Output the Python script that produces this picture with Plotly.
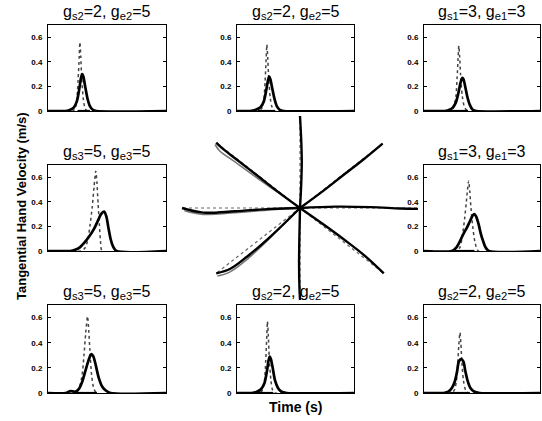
import plotly.graph_objects as go
import numpy as np

# ---------------- data ----------------
titles = [
    "g<sub>s2</sub>=2, g<sub>e2</sub>=5",  # top-left
    "g<sub>s2</sub>=2, g<sub>e2</sub>=5",  # top-middle
    "g<sub>s1</sub>=3, g<sub>e1</sub>=3",  # top-right
    "g<sub>s3</sub>=5, g<sub>e3</sub>=5",  # middle-left
    "g<sub>s1</sub>=3, g<sub>e1</sub>=3",  # middle-right
    "g<sub>s3</sub>=5, g<sub>e3</sub>=5",  # bottom-left
    "g<sub>s2</sub>=2, g<sub>e2</sub>=5",  # bottom-middle
    "g<sub>s2</sub>=2, g<sub>e2</sub>=5",  # bottom-right
]
ytick_vals = [0, 0.2, 0.4, 0.6]
ytick_text = ["0", "0.2", "0.4", "0.6"]

# top-left
tl_thin_t = [0, 0.42, 0.46, 0.49, 0.51, 0.53, 0.54, 0.555, 0.57, 0.60, 0.63, 0.67, 2.0]
tl_thin_v = [0, 0, 0.02, 0.10, 0.25, 0.45, 0.56, 0.45, 0.28, 0.09, 0.02, 0, 0]
tl_thick_t = [0, 0.30, 0.38, 0.44, 0.49, 0.53, 0.56, 0.58, 0.60, 0.63, 0.67, 0.71, 0.76, 0.82, 2.0]
tl_thick_v = [0, 0, 0.01, 0.03, 0.08, 0.18, 0.27, 0.30, 0.28, 0.20, 0.10, 0.04, 0.01, 0, 0]
# top-middle
tm_thin_t = [0, 0.36, 0.42, 0.46, 0.48, 0.50, 0.51, 0.525, 0.54, 0.57, 0.60, 0.64, 2.0]
tm_thin_v = [0, 0, 0.02, 0.10, 0.24, 0.44, 0.54, 0.44, 0.28, 0.10, 0.03, 0, 0]
tm_thick_t = [0, 0.22, 0.32, 0.40, 0.46, 0.50, 0.53, 0.55, 0.57, 0.60, 0.64, 0.68, 0.73, 0.80, 2.0]
tm_thick_v = [0, 0, 0.01, 0.03, 0.08, 0.17, 0.25, 0.28, 0.26, 0.19, 0.10, 0.04, 0.01, 0, 0]
# top-right
tr_thin_t = [0, 0.46, 0.51, 0.55, 0.57, 0.59, 0.60, 0.615, 0.63, 0.66, 0.70, 0.76, 2.0]
tr_thin_v = [0, 0, 0.03, 0.12, 0.26, 0.45, 0.53, 0.44, 0.30, 0.12, 0.03, 0, 0]
tr_thick_t = [0, 0.36, 0.44, 0.50, 0.55, 0.59, 0.63, 0.66, 0.68, 0.71, 0.75, 0.79, 0.84, 0.90, 2.0]
tr_thick_v = [0, 0, 0.01, 0.03, 0.07, 0.14, 0.23, 0.27, 0.26, 0.20, 0.11, 0.05, 0.01, 0, 0]
# middle-left
ml_thin_t = [0, 0.55, 0.62, 0.67, 0.71, 0.75, 0.78, 0.81, 0.83, 0.85, 0.87, 0.89, 0.92, 2.0]
ml_thin_v = [0, 0, 0.02, 0.08, 0.20, 0.36, 0.52, 0.65, 0.55, 0.38, 0.22, 0.08, 0, 0]
ml_thick_t = [0, 0.38, 0.46, 0.54, 0.62, 0.70, 0.78, 0.84, 0.90, 0.95, 0.99, 1.02, 1.06, 1.10, 1.16, 2.0]
ml_thick_v = [0, 0, 0.01, 0.03, 0.07, 0.12, 0.18, 0.24, 0.30, 0.32, 0.28, 0.20, 0.10, 0.04, 0, 0]
# middle-right
mr_thin_t = [0, 0.56, 0.62, 0.66, 0.70, 0.73, 0.75, 0.77, 0.79, 0.81, 0.84, 0.88, 0.94, 2.0]
mr_thin_v = [0, 0, 0.03, 0.12, 0.26, 0.40, 0.50, 0.57, 0.48, 0.35, 0.20, 0.07, 0, 0]
mr_thick_t = [0, 0.48, 0.56, 0.62, 0.68, 0.74, 0.79, 0.84, 0.87, 0.90, 0.94, 0.98, 1.02, 1.06, 1.12, 2.0]
mr_thick_v = [0, 0, 0.03, 0.08, 0.14, 0.19, 0.24, 0.29, 0.30, 0.28, 0.22, 0.14, 0.08, 0.03, 0, 0]
# bottom-left
bl_thin_t = [0, 0.47, 0.53, 0.58, 0.61, 0.64, 0.67, 0.69, 0.71, 0.74, 0.78, 0.83, 2.0]
bl_thin_v = [0, 0, 0.04, 0.15, 0.30, 0.48, 0.61, 0.50, 0.34, 0.14, 0.03, 0, 0]
bl_thick_t = [0, 0.30, 0.38, 0.46, 0.52, 0.58, 0.63, 0.68, 0.72, 0.74, 0.77, 0.81, 0.86, 0.92, 0.98, 1.06, 2.0]
bl_thick_v = [0, 0, 0.015, 0.01, 0.03, 0.09, 0.17, 0.25, 0.30, 0.31, 0.29, 0.22, 0.12, 0.05, 0.02, 0, 0]
# bottom-middle
bm_thin_t = [0, 0.38, 0.43, 0.47, 0.49, 0.51, 0.52, 0.535, 0.55, 0.58, 0.61, 0.65, 2.0]
bm_thin_v = [0, 0, 0.02, 0.10, 0.25, 0.46, 0.57, 0.46, 0.29, 0.10, 0.02, 0, 0]
bm_thick_t = [0, 0.25, 0.34, 0.41, 0.47, 0.51, 0.54, 0.56, 0.58, 0.61, 0.65, 0.70, 0.76, 0.85, 2.0]
bm_thick_v = [0, 0, 0.01, 0.03, 0.08, 0.17, 0.26, 0.29, 0.27, 0.20, 0.10, 0.04, 0.01, 0, 0]
# bottom-right
br_thin_t = [0, 0.48, 0.53, 0.56, 0.58, 0.60, 0.62, 0.635, 0.65, 0.68, 0.72, 0.77, 2.0]
br_thin_v = [0, 0, 0.03, 0.10, 0.22, 0.38, 0.48, 0.40, 0.27, 0.10, 0.02, 0, 0]
br_thick_t = [0, 0.34, 0.42, 0.48, 0.53, 0.57, 0.60, 0.64, 0.68, 0.71, 0.75, 0.80, 0.87, 0.96, 2.0]
br_thick_v = [0, 0, 0.01, 0.04, 0.09, 0.17, 0.25, 0.27, 0.25, 0.18, 0.10, 0.04, 0.01, 0, 0]

# movement duration bar (onset, offset) at zero velocity
onset = [0.50, 0.36, 0.44, None, 0.53, 0.46, 0.35, 0.44]
offset = [0.71, 0.65, 0.76, None, 0.87, 0.83, 0.62, 0.79]

# centre panel: hand paths to 8 targets (unit radius)
target_deg = [0, 45, 90, 135, 180, 225, 270, 315]
path_E_x = [0, 0.3, 0.6, 0.85, 1.0];            path_E_y = [0, 0.015, 0.01, -0.005, -0.01]
path_NE_x = [0, 0.18, 0.36, 0.54, 0.70];        path_NE_y = [0, 0.17, 0.35, 0.53, 0.70]
path_N_x = [0, 0.01, 0.015, 0.01, 0.0];         path_N_y = [0, 0.25, 0.5, 0.75, 1.0]
path_NW_x = [0, -0.18, -0.36, -0.54, -0.66, -0.71]; path_NW_y = [0, 0.17, 0.35, 0.53, 0.65, 0.71]
path_W_x = [0, -0.25, -0.55, -0.82, -1.0];      path_W_y = [0, -0.01, -0.035, -0.05, 0.0]
path_SW_x = [0, -0.25, -0.45, -0.59, -0.71];    path_SW_y = [0, -0.31, -0.53, -0.66, -0.71]
path_S_x = [0, -0.005, -0.008, -0.005, 0.0];    path_S_y = [0, -0.3, -0.6, -0.85, -1.0]
path_SE_x = [0, 0.2, 0.37, 0.55, 0.71];         path_SE_y = [0, -0.18, -0.34, -0.52, -0.71]
# second (grey) paths where they differ visibly
gpath_NW_x = [0, -0.2, -0.4, -0.56, -0.68, -0.72]; gpath_NW_y = [0, 0.18, 0.36, 0.51, 0.62, 0.69]
gpath_W_x = [0, -0.25, -0.55, -0.82, -0.98];       gpath_W_y = [0, -0.02, -0.05, -0.07, -0.03]
gpath_SW_x = [0, -0.25, -0.45, -0.60, -0.70];      gpath_SW_y = [0, -0.32, -0.56, -0.70, -0.74]

# ---------------- layout geometry ----------------
W, H = 542, 421
col_px = [(48, 166), (237, 354), (424, 540)]
row_px = [(25, 111), (165, 251), (305, 393)]
slots = [(0, 0), (0, 1), (0, 2), (1, 0), (1, 2), (2, 0), (2, 1), (2, 2)]

thin_t = [tl_thin_t, tm_thin_t, tr_thin_t, ml_thin_t, mr_thin_t, bl_thin_t, bm_thin_t, br_thin_t]
thin_v = [tl_thin_v, tm_thin_v, tr_thin_v, ml_thin_v, mr_thin_v, bl_thin_v, bm_thin_v, br_thin_v]
thick_t = [tl_thick_t, tm_thick_t, tr_thick_t, ml_thick_t, mr_thick_t, bl_thick_t, bm_thick_t, br_thick_t]
thick_v = [tl_thick_v, tm_thick_v, tr_thick_v, ml_thick_v, mr_thick_v, bl_thick_v, bm_thick_v, br_thick_v]

FONT = "Liberation Sans, Arial, Helvetica, sans-serif"
fig = go.Figure()
layout = dict(width=W, height=H, margin=dict(l=0, r=0, t=0, b=0, autoexpand=False),
              paper_bgcolor="white", plot_bgcolor="rgba(0,0,0,0)", showlegend=False,
              font=dict(family=FONT, color="black"))
annotations = []

for i, (r, c) in enumerate(slots):
    k = "" if i == 0 else str(i + 1)
    x0, x1 = col_px[c]
    y0, y1 = row_px[r]
    xd = [x0 / W, x1 / W]
    yd = [1 - y1 / H, 1 - y0 / H]
    layout["xaxis" + k] = dict(domain=xd, range=[0, 2], anchor="y" + k, showline=True, mirror=True,
                               linecolor="black", linewidth=1, showticklabels=False, ticks="",
                               showgrid=False, zeroline=False, fixedrange=True)
    layout["yaxis" + k] = dict(domain=yd, range=[0, 0.7], anchor="x" + k, showline=True, mirror="ticks",
                               linecolor="black", linewidth=1, tickvals=ytick_vals, ticktext=ytick_text,
                               ticks="inside", ticklen=3, tickcolor="black", showgrid=False, zeroline=False,
                               tickfont=dict(size=8, family=FONT, weight="bold"), ticklabelstandoff=3,
                               fixedrange=True)
    xa, ya = "x" + k, "y" + k
    fig.add_trace(go.Scatter(x=thin_t[i], y=thin_v[i], xaxis=xa, yaxis=ya, mode="lines",
                             line=dict(color="#444444", width=1.5, dash="dot", shape="spline", smoothing=0.7)))
    fig.add_trace(go.Scatter(x=thick_t[i], y=thick_v[i], xaxis=xa, yaxis=ya, mode="lines",
                             line=dict(color="black", width=2.7, shape="spline", smoothing=0.7)))
    if onset[i] is not None:
        fig.add_trace(go.Scatter(x=[onset[i], offset[i]], y=[0, 0], xaxis=xa, yaxis=ya, mode="lines",
                                 line=dict(color="black", width=2.2), cliponaxis=False))
    annotations.append(dict(text=titles[i], xref="paper", yref="paper", x=(x0 + x1) / 2 / W,
                            y=1 - y0 / H, xanchor="center", yanchor="bottom", yshift=1, showarrow=False,
                            font=dict(size=16, family=FONT, color="black")))

# centre panel
cx, cy = 300, 208
sx, sy = 118, 92
rng = 1.1
layout["xaxis9"] = dict(domain=[(cx - rng * sx) / W, (cx + rng * sx) / W], range=[-rng, rng],
                        anchor="y9", visible=False, fixedrange=True)
layout["yaxis9"] = dict(domain=[1 - (cy + rng * sy) / H, 1 - (cy - rng * sy) / H], range=[-rng, rng],
                        anchor="x9", visible=False, fixedrange=True)

ang = np.deg2rad(target_deg)
dx, dy = [], []
for a in ang:
    dx += [0, float(np.cos(a)), None]
    dy += [0, float(np.sin(a)), None]
fig.add_trace(go.Scatter(x=dx, y=dy, xaxis="x9", yaxis="y9", mode="lines",
                         line=dict(color="#666666", width=1.2, dash="dot")))

for gx, gy in [(gpath_NW_x, gpath_NW_y), (gpath_W_x, gpath_W_y), (gpath_SW_x, gpath_SW_y)]:
    fig.add_trace(go.Scatter(x=gx, y=gy, xaxis="x9", yaxis="y9", mode="lines",
                             line=dict(color="#777777", width=1.6, shape="spline")))

for px_, py_ in [(path_E_x, path_E_y), (path_NE_x, path_NE_y), (path_N_x, path_N_y),
                 (path_NW_x, path_NW_y), (path_W_x, path_W_y), (path_SW_x, path_SW_y),
                 (path_S_x, path_S_y), (path_SE_x, path_SE_y)]:
    fig.add_trace(go.Scatter(x=px_, y=py_, xaxis="x9", yaxis="y9", mode="lines",
                             line=dict(color="black", width=2.4, shape="spline")))

annotations.append(dict(text="Tangential Hand Velocity (m/s)", xref="paper", yref="paper",
                        x=21 / W, y=1 - 206 / H, textangle=-90, showarrow=False,
                        xanchor="center", yanchor="middle",
                        font=dict(size=13, family=FONT, color="black", weight="bold")))
annotations.append(dict(text="Time (s)", xref="paper", yref="paper", x=295 / W, y=1 - 407 / H,
                        showarrow=False, xanchor="center", yanchor="middle",
                        font=dict(size=14, family=FONT, color="black", weight="bold")))

layout["annotations"] = annotations
fig.update_layout(**layout)
fig.write_html("out.html", config={"displayModeBar": False},
               post_script="document.body.style.margin='0';document.body.style.padding='0';")
